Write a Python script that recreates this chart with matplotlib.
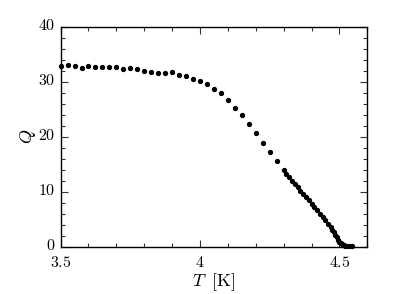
import matplotlib
matplotlib.use('Agg')
import matplotlib.pyplot as plt
from matplotlib.ticker import MultipleLocator, FixedFormatter, FixedLocator
from matplotlib.transforms import ScaledTranslation

plt.rcParams['mathtext.fontset'] = 'cm'
plt.rcParams['font.family'] = 'serif'
plt.rcParams['font.serif'] = ['DejaVu Serif']

# temperature (K) and Q
T = [3.5, 3.525, 3.55, 3.575, 3.6, 3.625, 3.65, 3.675, 3.7, 3.725,
     3.75, 3.775, 3.8, 3.825, 3.85, 3.875, 3.9, 3.925, 3.95, 3.975,
     4.0, 4.025, 4.05, 4.075, 4.1, 4.125, 4.15, 4.175, 4.2, 4.225,
     4.25, 4.275,
     4.30, 4.31, 4.32, 4.33, 4.34, 4.35, 4.36, 4.37, 4.38, 4.39,
     4.40, 4.41, 4.42, 4.43, 4.44, 4.45, 4.46, 4.47, 4.475, 4.48,
     4.485, 4.49, 4.495, 4.50, 4.505, 4.51, 4.515, 4.52, 4.53, 4.54, 4.545]
Q = [32.9, 33.0, 32.85, 32.5, 32.85, 32.7, 32.7, 32.7, 32.7, 32.3,
     32.5, 32.3, 32.0, 31.8, 31.6, 31.6, 31.8, 31.3, 31.0, 30.5,
     30.1, 29.6, 28.7, 28.0, 26.7, 25.3, 23.9, 22.3, 20.6, 18.9,
     17.3, 15.6,
     13.9, 13.2, 12.6, 12.0, 11.4, 10.8, 10.2, 9.6, 9.0, 8.4,
     7.8, 7.2, 6.6, 6.0, 5.4, 4.8, 4.2, 3.5, 3.0, 2.6,
     2.1, 1.7, 1.3, 0.9, 0.6, 0.4, 0.3, 0.2, 0.15, 0.1, 0.1]

x_ticks = [3.5, 4.0, 4.5]
x_labels = ['$3.5$', '$4$', '$4.5$']
y_ticks = [0, 10, 20, 30, 40]
y_labels = ['$0$', '$10$', '$20$', '$30$', '$40$']

fig = plt.figure(figsize=(4.15, 2.94), dpi=100)
ax = fig.add_axes([0.146, 0.161, 0.739, 0.748])

ax.plot(T, Q, 'o', color='black', markersize=2.8, clip_on=False)

ax.set_xlim(3.5, 4.6)
ax.set_ylim(0, 40)
ax.xaxis.set_major_locator(FixedLocator(x_ticks))
ax.xaxis.set_major_formatter(FixedFormatter(x_labels))
ax.xaxis.set_minor_locator(MultipleLocator(0.1))
ax.yaxis.set_major_locator(FixedLocator(y_ticks))
ax.yaxis.set_major_formatter(FixedFormatter(y_labels))
ax.yaxis.set_minor_locator(MultipleLocator(2))
ax.tick_params(which='both', direction='in', top=True, right=True,
               labelsize=11.5, color='#333333')
ax.tick_params(which='major', length=5, width=0.8)
ax.tick_params(which='minor', length=3, width=0.8)
ax.tick_params(axis='x', which='major', pad=5)
ax.tick_params(axis='y', which='major', pad=4)
for s in ax.spines.values():
    s.set_linewidth(1.0)

# nudge y tick labels up a little so "0" clears "3.5"
shift = ScaledTranslation(0, 2 / 72, fig.dpi_scale_trans)
for lab in ax.get_yticklabels():
    lab.set_transform(lab.get_transform() + shift)

ax.set_xlabel(r'$T\;\;[\mathrm{K}]$', fontsize=13, labelpad=0.5)
ax.set_ylabel(r'$Q$', fontsize=13, labelpad=0)

fig.savefig('out.png', dpi=100)
